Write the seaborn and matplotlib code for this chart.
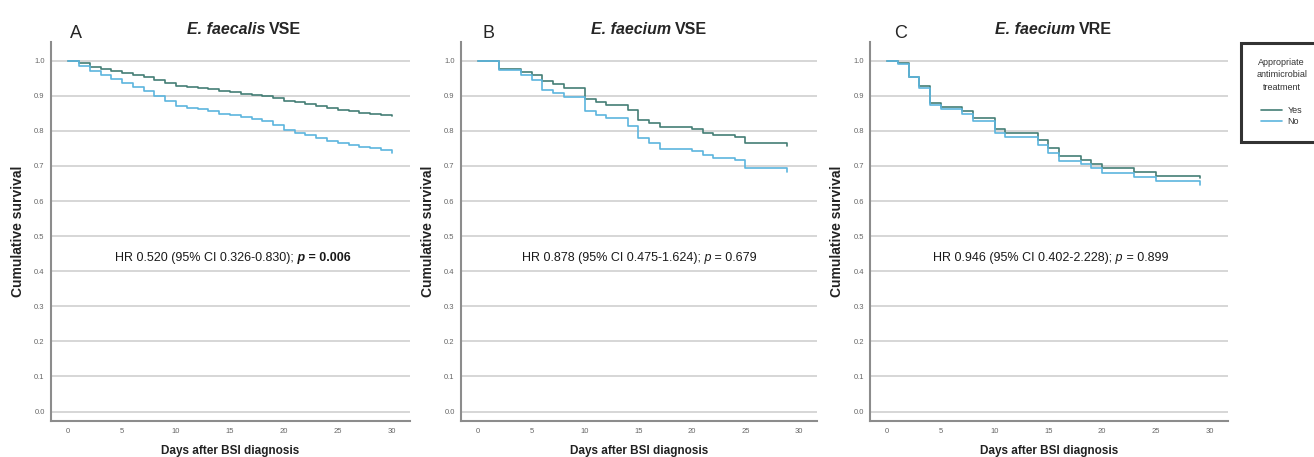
import numpy as np
import pandas as pd
import seaborn as sns
import matplotlib
matplotlib.use("Agg")
from matplotlib import pyplot as plt
from matplotlib.ticker import FormatStrFormatter

### DATA ###

GROUPS = ["Yes", "No"]

# A: E. faecalis VSE
a_days = list(range(0, 31))
a_yes = [1.0, 0.994, 0.983, 0.976, 0.971, 0.965, 0.958, 0.952, 0.945, 0.935,
         0.929, 0.926, 0.923, 0.920, 0.914, 0.911, 0.906, 0.902, 0.899, 0.893,
         0.886, 0.881, 0.876, 0.871, 0.865, 0.859, 0.856, 0.850, 0.848, 0.845,
         0.842]
a_no = [1.0, 0.986, 0.971, 0.958, 0.947, 0.935, 0.924, 0.914, 0.900, 0.886,
        0.872, 0.866, 0.861, 0.856, 0.847, 0.845, 0.839, 0.833, 0.827, 0.816,
        0.801, 0.793, 0.788, 0.780, 0.771, 0.765, 0.759, 0.753, 0.750, 0.744,
        0.736]

# B: E. faecium VSE
b_days = [0, 2, 4, 5, 6, 7, 8, 10, 11, 12, 14, 15, 16, 17, 20, 21, 22, 24, 25, 28.9]
b_yes = [1.0, 0.977, 0.968, 0.958, 0.941, 0.934, 0.922, 0.892, 0.882, 0.875,
         0.858, 0.832, 0.821, 0.811, 0.804, 0.795, 0.789, 0.783, 0.766, 0.757]
b_no = [1.0, 0.972, 0.960, 0.944, 0.915, 0.908, 0.897, 0.856, 0.844, 0.837,
        0.814, 0.780, 0.766, 0.749, 0.742, 0.730, 0.724, 0.716, 0.694, 0.683]

# C: E. faecium VRE
c_days = [0, 1, 2, 3, 4, 5, 7, 8, 10, 11, 14, 15, 16, 18, 19, 20, 23, 25, 29.1]
c_yes = [1.0, 0.993, 0.954, 0.927, 0.880, 0.868, 0.856, 0.837, 0.805, 0.793,
         0.774, 0.750, 0.728, 0.717, 0.706, 0.695, 0.683, 0.672, 0.665]
c_no = [1.0, 0.991, 0.952, 0.923, 0.874, 0.863, 0.849, 0.829, 0.795, 0.783,
        0.759, 0.736, 0.715, 0.706, 0.693, 0.681, 0.668, 0.657, 0.646]

PANELS = [
    # letter, species, strain, days, yes, no, stats text
    ("A", "E. faecalis", "VSE", a_days, a_yes, a_no,
     [("HR 0.520 (95% CI 0.326-0.830);", "normal", "normal"),
      (" p", "italic", "bold"), (" = 0.006", "normal", "bold")]),
    ("B", "E. faecium", "VSE", b_days, b_yes, b_no,
     [("HR 0.878 (95% CI 0.475-1.624);", "normal", "normal"),
      (" p", "italic", "normal"), (" = 0.679", "normal", "normal")]),
    ("C", "E. faecium", "VRE", c_days, c_yes, c_no,
     [("HR 0.946 (95% CI 0.402-2.228);", "normal", "normal"),
      (" p", "italic", "normal"), (" = 0.899", "normal", "normal")]),
]

YES_COLOR = "#447e75"
NO_COLOR = "#5cb5de"

### STYLE ###
sns.set_style("white")
plt.rcParams["font.family"] = ["Liberation Sans", "DejaVu Sans"]

W, H = 1314, 457
fig = plt.figure(figsize=(W / 100, H / 100), dpi=100)

# axes boxes in pixels: left, right (top 41.7, bottom 420.7)
ax_px = [(51, 410), (461, 817), (870, 1228)]
letter_x = [70, 482, 894]
title_split = [(265.5, 268.5), (671, 675), (1075, 1079)]
stats_x = [115, 522, 933]
top_px, bot_px = 41.7, 420.7

axes = []
for i, (letter, species, strain, days, yes, no, stats) in enumerate(PANELS):
    l, r = ax_px[i]
    ax = fig.add_axes([l / W, 1 - bot_px / H, (r - l) / W, (bot_px - top_px) / H])
    axes.append(ax)

    df = pd.concat([
        pd.DataFrame({"day": days, "survival": yes, "group": "Yes"}),
        pd.DataFrame({"day": days, "survival": no, "group": "No"}),
    ], ignore_index=True)
    sns.lineplot(data=df, x="day", y="survival", hue="group", hue_order=GROUPS,
                 palette=[YES_COLOR, NO_COLOR], drawstyle="steps-post",
                 estimator=None, sort=False, legend=False, linewidth=1.2, ax=ax)

    ax.set_xlim(-1.6, 31.7)
    ax.set_ylim(-0.026, 1.054)
    ax.set_xticks(range(0, 31, 5))
    ax.set_yticks(np.arange(0, 1.01, 0.1))
    ax.yaxis.set_major_formatter(FormatStrFormatter("%.1f"))
    ax.grid(axis="y", color="#d6d6d6", linewidth=1.4)
    ax.grid(axis="x", visible=False)
    ax.set_axisbelow(True)
    sns.despine(ax=ax)
    for side in ["left", "bottom"]:
        ax.spines[side].set_color("#8c8c8c")
        ax.spines[side].set_linewidth(1.5)
    ax.tick_params(axis="both", length=0, labelsize=5.5, labelcolor="#666666")
    ax.tick_params(axis="y", pad=4.5)
    ax.tick_params(axis="x", pad=5.5)

    ax.set_ylabel("Cumulative survival", fontsize=10, fontweight="bold", color="#222222")
    ax.yaxis.label.set_va("center")
    ax.yaxis.set_label_coords(-0.093, 0.5)
    ax.set_xlabel("Days after BSI diagnosis", fontsize=8.5, fontweight="bold", color="#222222")
    ax.xaxis.label.set_va("center")
    ax.xaxis.set_label_coords(0.5, -0.08)

    # panel letter and title
    fig.text(letter_x[i] / W, 1 - 38 / H, letter, fontsize=13, va="baseline", ha="left")
    fig.text(title_split[i][0] / W, 1 - 33.5 / H, species, fontsize=11.5,
             style="italic", weight="bold", ha="right", va="baseline")
    fig.text(title_split[i][1] / W, 1 - 33.5 / H, strain, fontsize=11.5,
             weight="bold", ha="left", va="baseline")

    # hazard ratio text, pieced together for the mixed styles
    prev = fig.text(stats_x[i] / W, 1 - 260.7 / H, stats[0][0], fontsize=9,
                    va="baseline", ha="left", color="#1a1a1a")
    for txt, st, wt in stats[1:]:
        prev = ax.annotate(txt, xy=(1, 0), xycoords=prev, va="bottom", ha="left",
                           fontsize=9, style=st, weight=wt, color="#1a1a1a")

### LEGEND ###
handles = axes[2].get_lines()[:2]
leg = fig.legend(handles, GROUPS, title="Appropriate\nantimicrobial\ntreatment\n",
                 loc="upper left", bbox_to_anchor=(1241 / W, 1 - 43 / H),
                 borderaxespad=0, fontsize=6.5, title_fontsize=6.5, frameon=True,
                 fancybox=False, edgecolor="black", borderpad=1.7, handlelength=2.3,
                 handletextpad=0.6, labelspacing=0.25)
leg.get_frame().set_linewidth(2.2)
leg.get_title().set_linespacing(1.45)
leg.get_title().set_multialignment("center")
leg.get_title().set_color("#333333")
for t in leg.get_texts():
    t.set_color("#333333")

fig.savefig("out.png", dpi=100)
